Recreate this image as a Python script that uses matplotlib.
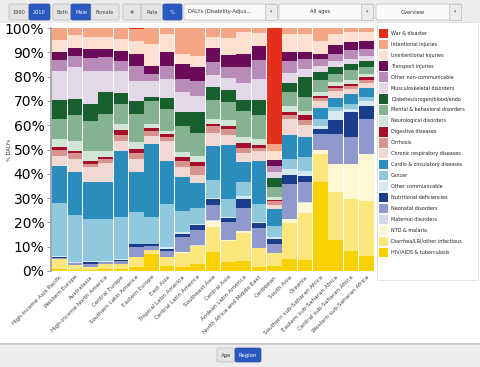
import numpy as np
import matplotlib
matplotlib.use("Agg")
import matplotlib.pyplot as plt
from matplotlib.patches import FancyBboxPatch, Rectangle

regions = ["High-income Asia Pacific", "Western Europe", "Australasia",
           "High-income North America", "Central Europe", "Southern Latin America",
           "Eastern Europe", "East Asia", "Tropical Latin America",
           "Central Latin America", "Southeast Asia", "Central Asia",
           "Andean Latin America", "North Africa and Middle East", "Caribbean",
           "South Asia", "Oceania", "Southern sub-Saharan Africa",
           "Eastern sub-Saharan Africa", "Central sub-Saharan Africa",
           "Western sub-Saharan Africa"]

# causes, bottom to top
causes = ["HIV/AIDS & tuberculosis", "Diarrhea/LRI/other infectious", "NTD & malaria",
          "Maternal disorders", "Neonatal disorders", "Nutritional deficiencies",
          "Other communicable", "Cancer", "Cardio & circulatory diseases",
          "Chronic respiratory diseases", "Cirrhosis", "Digestive diseases",
          "Neurological disorders", "Mental & behavioral disorders",
          "Diabetes/urogen/blood/endo", "Musculoskeletal disorders",
          "Other non-communicable", "Transport injuries", "Unintentional injuries",
          "Intentional injuries", "War & disaster"]

colors = ["#f8d200", "#fde67c", "#fff7d2", "#d5d9ee", "#8f99cc", "#1b3d8e",
          "#d6eaf3", "#90c8de", "#2a8dbd", "#f2d8d3", "#d8938d", "#a50f2a",
          "#d2e6d7", "#85b391", "#175f2c", "#e4d7e7", "#b98bb9", "#6d0b5b",
          "#fde0d0", "#f4a583", "#e4301b"]

# % DALYs per region (columns follow `regions`)
hiv_tb      = [0.8, 0.5, 0.4, 1.0, 0.8, 1.5, 7.0, 2.2, 1.8, 2.9, 7.8, 3.8, 4.3, 1.5, 2.2, 5.0, 4.5, 36.5, 12.8, 8.4, 6.3]
diarrhea    = [4.0, 2.1, 1.1, 1.9, 2.1, 4.1, 1.6, 3.4, 5.5, 7.1, 10.2, 8.7, 11.2, 7.8, 5.1, 14.8, 19.2, 11.7, 19.6, 21.2, 22.4]
ntd_malaria = [0.05, 0.0, 0.0, 0.0, 0.0, 0.0, 0.0, 0.1, 0.4, 0.3, 2.7, 0.2, 0.9, 0.2, 0.0, 1.5, 4.3, 1.5, 11.5, 14.3, 19.3]
maternal    = [0.05, 0.0, 0.0, 0.0, 0.0, 0.0, 0.0, 0.0, 0.0, 0.1, 0.3, 0.1, 0.2, 0.0, 0.0, 0.2, 0.3, 0.1, 0.1, 0.1, 0.1]
neonatal    = [0.3, 0.5, 1.4, 0.8, 1.2, 4.4, 1.7, 2.7, 6.2, 6.2, 6.3, 7.5, 9.3, 8.2, 3.8, 14.5, 8.2, 6.6, 12.4, 11.0, 14.5]
nutritional = [0.6, 0.3, 0.7, 0.2, 0.5, 1.0, 0.8, 0.8, 1.5, 2.2, 2.2, 1.5, 3.7, 1.9, 2.1, 3.5, 2.7, 2.1, 5.7, 10.3, 5.4]
other_comm  = [0.4, 0.4, 0.4, 0.1, 0.3, 0.1, 0.1, 0.5, 0.5, 0.5, 0.5, 0.6, 1.4, 0.4, 0.7, 2.3, 2.1, 1.3, 3.7, 1.3, 2.0]
cancer      = [21.7, 19.4, 17.4, 17.4, 17.2, 13.0, 11.0, 17.9, 8.9, 6.2, 7.5, 7.1, 5.5, 7.6, 4.8, 4.2, 5.8, 2.8, 1.8, 2.1, 1.7]
cardio      = [15.3, 17.7, 15.1, 15.1, 27.1, 16.5, 30.2, 17.8, 13.7, 10.3, 14.0, 22.4, 8.2, 17.8, 6.8, 10.0, 7.9, 4.5, 3.6, 4.1, 3.6]
chronic_resp= [4.2, 5.2, 6.4, 7.8, 4.2, 5.5, 3.4, 8.0, 4.2, 3.4, 5.3, 4.1, 3.7, 4.1, 1.8, 6.5, 5.2, 3.0, 3.0, 2.2, 1.9]
cirrhosis   = [2.3, 2.3, 1.1, 1.8, 2.7, 2.3, 1.8, 1.9, 2.7, 3.5, 3.0, 2.3, 2.2, 1.1, 1.4, 1.5, 1.9, 1.1, 1.1, 1.0, 1.4]
digestive   = [1.4, 1.1, 1.1, 1.0, 1.9, 1.8, 1.3, 1.1, 1.4, 1.6, 1.0, 1.4, 1.9, 1.4, 0.5, 1.5, 2.2, 1.0, 1.0, 1.1, 1.1]
neuro       = [3.1, 4.1, 4.1, 2.4, 2.5, 2.7, 1.7, 1.4, 2.0, 2.5, 2.0, 2.4, 2.5, 2.3, 1.4, 2.5, 1.4, 1.3, 1.3, 1.6, 1.4]
mental      = [8.4, 10.7, 12.4, 15.1, 8.2, 11.7, 9.3, 8.9, 11.0, 9.6, 7.8, 7.6, 11.0, 10.0, 4.1, 5.8, 5.8, 5.1, 3.5, 3.9, 3.0]
diabetes    = [7.7, 6.5, 7.1, 8.9, 4.4, 5.5, 1.9, 4.5, 5.5, 8.2, 5.2, 4.8, 4.4, 6.1, 3.6, 3.4, 8.2, 3.2, 2.7, 2.7, 2.2]
musculo     = [11.8, 13.0, 13.7, 8.9, 9.3, 8.2, 6.6, 7.8, 8.2, 6.9, 5.2, 4.8, 6.8, 8.6, 2.3, 4.3, 3.4, 2.7, 2.6, 2.1, 2.3]
other_ncd   = [4.8, 4.8, 5.1, 5.5, 4.2, 6.2, 2.8, 5.5, 5.5, 6.1, 5.1, 4.7, 6.6, 7.8, 2.7, 5.1, 4.1, 2.7, 2.8, 3.4, 2.8]
transport   = [3.0, 3.2, 3.9, 3.5, 4.1, 4.8, 3.4, 5.5, 6.2, 5.5, 5.8, 4.8, 5.5, 5.9, 2.4, 3.4, 2.8, 2.1, 3.9, 3.4, 3.4]
unintent    = [5.2, 5.4, 5.0, 5.0, 4.8, 5.5, 8.9, 7.5, 4.1, 4.5, 4.7, 6.9, 8.9, 5.1, 3.8, 7.5, 7.5, 5.5, 4.4, 4.1, 3.4]
intent      = [4.8, 2.8, 3.6, 3.6, 4.5, 4.9, 6.4, 2.5, 10.7, 11.4, 3.6, 4.3, 1.8, 2.2, 2.8, 2.5, 2.5, 5.2, 2.5, 1.7, 1.8]
war         = [0.0, 0.0, 0.0, 0.0, 0.0, 0.3, 0.2, 0.0, 0.0, 0.0, 0.0, 0.0, 0.0, 0.0, 47.7, 0.0, 0.0, 0.0, 0.0, 0.0, 0.0]

series = [hiv_tb, diarrhea, ntd_malaria, maternal, neonatal, nutritional, other_comm,
          cancer, cardio, chronic_resp, cirrhosis, digestive, neuro, mental, diabetes,
          musculo, other_ncd, transport, unintent, intent, war]

yticks = [0, 10, 20, 30, 40, 50, 60, 70, 80, 90, 100]

W, H = 480, 367
fig = plt.figure(figsize=(W / 100, H / 100), dpi=100)
fig.patch.set_facecolor("white")

def fx(x):
    return x / W

def fy(y):
    return 1 - y / H

# background bands
fig.add_artist(Rectangle((0, fy(23)), 1, 23 / H, transform=fig.transFigure,
                         facecolor="#ededed", edgecolor="none", zorder=0))
fig.add_artist(Rectangle((0, 0), 1, (H - 343) / H, transform=fig.transFigure,
                         facecolor="#ededed", edgecolor="none", zorder=0))
fig.add_artist(Rectangle((0, fy(343.5)), 1, 0.0001, transform=fig.transFigure,
                         facecolor="none", edgecolor="#c8c8c8", lw=0.6, zorder=1))

def button(x0, x1, y0, y1, text, selected=False, fs=3.6):
    fc = "#2a59c0" if selected else "#e4e4e4"
    ec = "#2a4fa0" if selected else "#b9b9b9"
    p = FancyBboxPatch((fx(x0), fy(y1)), fx(x1 - x0), (y1 - y0) / H,
                       boxstyle="round,pad=0,rounding_size=0.004",
                       transform=fig.transFigure, facecolor=fc, edgecolor=ec,
                       lw=0.5, zorder=2)
    fig.add_artist(p)
    fig.text(fx((x0 + x1) / 2), fy((y0 + y1) / 2), text, ha="center", va="center",
             fontsize=fs, color="white" if selected else "#444444", zorder=3)

def dropdown(x0, x1, y0, y1, text, ha="center"):
    p = FancyBboxPatch((fx(x0), fy(y1)), fx(x1 - x0), (y1 - y0) / H,
                       boxstyle="round,pad=0,rounding_size=0.004",
                       transform=fig.transFigure, facecolor="#fafafa",
                       edgecolor="#bbbbbb", lw=0.5, zorder=2)
    fig.add_artist(p)
    fig.add_artist(Rectangle((fx(x1 - 12), fy(y1)), fx(12), (y1 - y0) / H,
                             transform=fig.transFigure, facecolor="#ececec",
                             edgecolor="#bbbbbb", lw=0.5, zorder=2))
    fig.text(fx(x1 - 6), fy((y0 + y1) / 2), "\u25be", ha="center", va="center",
             fontsize=3.5, color="#777777", zorder=3)
    tx = x0 + 4 if ha == "left" else (x0 + x1 - 12) / 2
    fig.text(fx(tx), fy((y0 + y1) / 2), text, ha=ha, va="center",
             fontsize=3.7, color="#333333", zorder=3)

button(9, 29, 4, 20, "1990")
button(29, 50, 4, 20, "2010", True)
button(53, 71, 4, 20, "Both")
button(71, 91, 4, 20, "Male", True)
button(91, 119, 4, 20, "Female")
button(123, 141, 4, 20, "#")
button(141, 163, 4, 20, "Rate")
button(163, 182, 4, 20, "%", True)
dropdown(184, 277, 4, 20, "DALYs (Disability-Adjus...", ha="left")
dropdown(279, 373, 4, 20, "All ages")
dropdown(376, 461, 4, 20, "Overview")

button(217, 235, 348, 362, "Age", fs=3.9)
button(235, 261, 348, 362, "Region", True, fs=3.9)

# main axes
ax = fig.add_axes([fx(52), fy(271), fx(374 - 52), (271 - 28) / H])
x = np.arange(len(regions))
data = np.array(series, dtype=float)
data = data / data.sum(axis=0) * 100
bottom = np.zeros(len(regions))
for vals, col, name in zip(data, colors, causes):
    ax.bar(x, vals, bottom=bottom, width=0.96, color=col, edgecolor="none",
           label=name)
    bottom += vals

ax.set_xlim(-0.5, len(regions) - 0.5)
ax.set_ylim(0, 100)
ax.set_yticks(yticks)
ax.set_yticklabels([f"{t}%" for t in yticks], fontsize=3.7, color="#333333")
ax.set_xticks(x)
ax.set_xticklabels(regions, rotation=45, ha="right", rotation_mode="anchor",
                   fontsize=4.1, color="#444444")
ax.tick_params(axis="x", length=0, pad=2.5)
ax.tick_params(axis="y", length=3, width=0.6, color="#888888", pad=1.5)
for s in ["top", "right", "bottom"]:
    ax.spines[s].set_visible(False)
ax.spines["left"].set_color("#999999")
ax.spines["left"].set_linewidth(1.2)
ax.spines["left"].set_position(("outward", 1))
ax.set_ylabel("% DALYs", fontsize=3.8, color="#333333")
ax.yaxis.set_label_coords(-0.125, 0.5)

# legend (drawn in figure pixels)
fig.add_artist(Rectangle((fx(377), fy(280)), fx(478 - 377), (280 - 22) / H,
                         transform=fig.transFigure, facecolor="white",
                         edgecolor="#dddddd", lw=0.6, zorder=1))
for i, (name, col) in enumerate(zip(causes[::-1], colors[::-1])):
    yc = 33.3 + i * 10.95
    fig.add_artist(Rectangle((fx(378.5), fy(yc + 4.7)), fx(9.5), 9.4 / H,
                             transform=fig.transFigure, facecolor=col,
                             edgecolor="none", zorder=2))
    fig.text(fx(391), fy(yc), name, ha="left", va="center", fontsize=3.5,
             color="#222222", zorder=3)

fig.savefig("out.png", dpi=100)
